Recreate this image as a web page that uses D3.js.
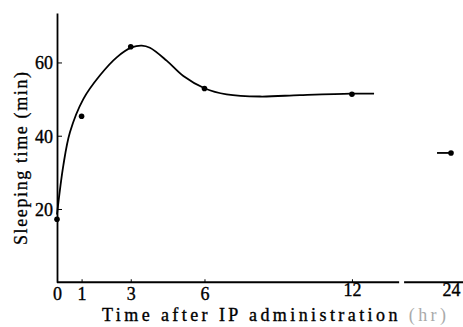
<!DOCTYPE html>
<html><head><meta charset="utf-8">
<script src="https://cdn.jsdelivr.net/npm/d3@7"></script>
<style>
body{margin:0;background:#fff;}
svg text{font-family:"Liberation Serif","Times New Roman",Times,"DejaVu Serif",serif !important;}
</style></head>
<body><svg id="c" width="463" height="327"></svg>
<script>
// ---- data ----
const pointHours = [0, 1, 3, 6, 12, 24];
const pointValues = [17.2, 45.3, 64.3, 52.9, 51.3, 35.3];
const curveHours = [0, 0.26, 0.53, 1.07, 1.75, 2.43, 3.04, 3.45, 3.78, 4.46, 5.14, 6.02, 6.9, 8.26, 9.89, 11.96, 12.9];
const curveValues = [18.5, 32, 41, 50, 56.5, 61.4, 64.1, 64.6, 64.0, 60.5, 56.3, 52.9, 51.3, 50.7, 51.1, 51.5, 51.5];
const lastSegHours = [21.2, 24];
const lastSegValues = [35.3, 35.3];
const xTicks = [0, 1, 3, 6, 12, 24];
const yTicks = [20, 40, 60];
const xAxisPieces = [[0, 13.92], [14.6, 26.5]];
const xTitle = "Time after IP administration";
const xUnit = " (hr)";
const yTitle = "Sleeping time (min)";

const FONT = '"Liberation Serif", "Times New Roman", Times, "DejaVu Serif", serif';

// ---- scales (linear up to the axis break, compressed after it) ----
const x = d3.scaleLinear().domain([0, 14, 24]).range([57, 401.1, 451]);
const y = d3.scaleLinear().domain([0, 73.5]).range([282.25, 13]);

const svg = d3.select("#c");

// y axis
const ya = svg.append("g").attr("transform", `translate(${x(0)},0)`)
  .call(d3.axisLeft(y).tickValues(yTicks).tickSizeInner(-5).tickSizeOuter(0).tickPadding(4).tickFormat(d3.format("d")));
ya.attr("font-family", null);
ya.select(".domain").attr("stroke", "#000").attr("stroke-width", 1.8);
ya.selectAll(".tick line").attr("stroke", "#000").attr("stroke-width", 1);
ya.selectAll(".tick text").attr("font-size", 18).attr("fill", "#000")
  .attr("stroke", "#000").attr("stroke-width", 0.35)
  .style("font-family", FONT).attr("dy", "0.35em");

// x axis
const xa = svg.append("g").attr("transform", `translate(0,${y(0)})`)
  .call(d3.axisBottom(x).tickValues(xTicks).tickSizeInner(-3).tickSizeOuter(0).tickPadding(5).tickFormat(d3.format("d")));
xa.attr("font-family", null);
xa.select(".domain").remove();
xa.selectAll(".tick line").attr("stroke", "#000").attr("stroke-width", 1)
  .attr("opacity", d => (d === 0 || d === 24) ? 0 : 1);
xa.selectAll(".tick text").attr("font-size", 18).attr("fill", "#000")
  .attr("stroke", "#000").attr("stroke-width", 0.35)
  .style("font-family", FONT)
  .attr("dy", d => d >= 12 ? "0.5em" : "0.71em");
svg.append("g").selectAll("line").data(xAxisPieces).join("line")
  .attr("x1", d => x(d[0])).attr("x2", d => x(d[1]))
  .attr("y1", y(0)).attr("y2", y(0))
  .attr("stroke", "#000").attr("stroke-width", 1.8);

// curve
const line = d3.line().x(d => x(d[0])).y(d => y(d[1])).curve(d3.curveCatmullRom.alpha(0.5));
svg.append("path").datum(curveHours.map((h, i) => [h, curveValues[i]]))
  .attr("d", line).attr("fill", "none").attr("stroke", "#000").attr("stroke-width", 1.8);
svg.append("path").datum(lastSegHours.map((h, i) => [h, lastSegValues[i]]))
  .attr("d", d3.line().x(d => x(d[0])).y(d => y(d[1])))
  .attr("fill", "none").attr("stroke", "#000").attr("stroke-width", 1.8);

// points
svg.append("g").selectAll("circle").data(pointHours.map((h, i) => [h, pointValues[i]])).join("circle")
  .attr("cx", d => x(d[0])).attr("cy", d => y(d[1])).attr("r", 2.8).attr("fill", "#000");

// titles
const xt = svg.append("text").attr("x", 102).attr("y", 321)
  .attr("font-size", 18).attr("fill", "#000").attr("stroke", "#000").attr("stroke-width", 0.35)
  .style("font-family", FONT)
  .attr("textLength", 344).attr("lengthAdjust", "spacing");
xt.append("tspan").text(xTitle);
xt.append("tspan").attr("fill", "#aaa").attr("stroke", "none").text(xUnit);

svg.append("text").attr("transform", "translate(27,158.5) rotate(-90)")
  .attr("text-anchor", "middle").attr("font-size", 18).attr("fill", "#000")
  .attr("stroke", "#000").attr("stroke-width", 0.3)
  .style("font-family", FONT)
  .attr("textLength", 173).attr("lengthAdjust", "spacing")
  .text(yTitle);
</script></body></html>
